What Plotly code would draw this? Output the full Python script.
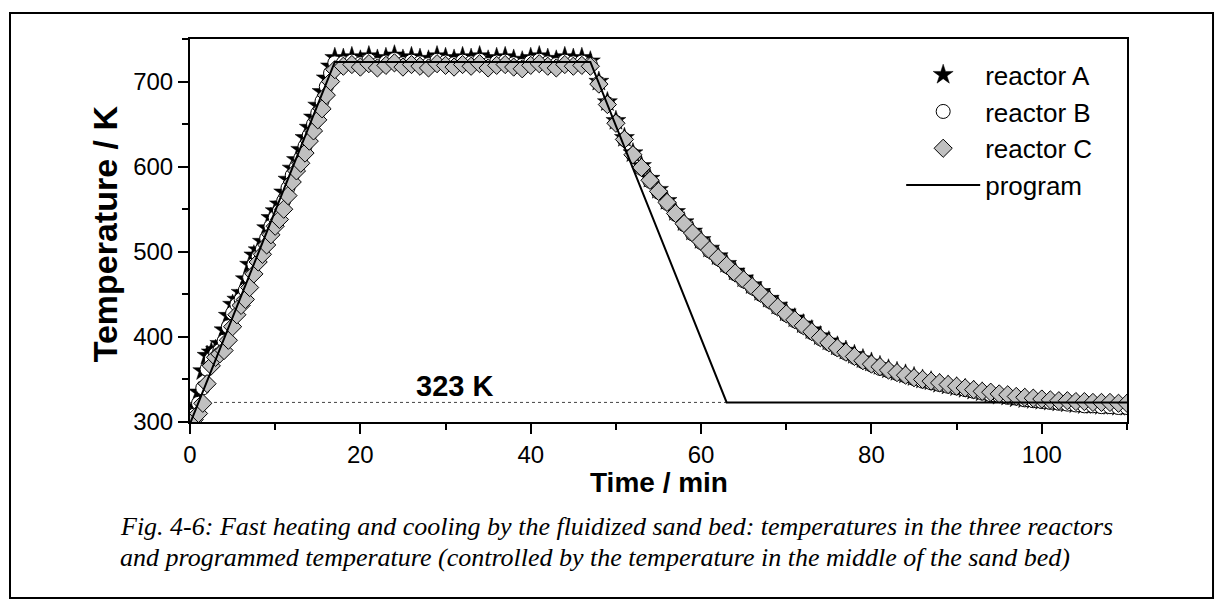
import plotly.graph_objects as go

# ---------------- data ----------------
heat_t = [i * 0.5 for i in range(35)]          # 0 .. 17 min
rest_t = list(range(18, 111))                  # 18 .. 110 min
time_min = heat_t + rest_t

reactor_A = [
    # heating 0..17 (0.5 min)
    302, 318, 335, 360, 378, 382, 385, 392, 408, 425, 438, 444, 452, 468, 485, 496, 502, 512,
    528, 540, 548, 556, 570, 585, 598, 608, 620, 634, 646, 658, 672, 688, 704, 718, 728,
    # plateau 18..46
    727, 729, 725, 730, 726, 728, 731, 726, 729, 727, 725, 730, 728, 726, 729, 727, 730, 725,
    728, 729, 726, 724, 728, 730, 727, 725, 729, 727, 728,
    # cooling 47..110
    724, 700, 676, 654, 634, 616, 601, 586, 573, 560, 547, 535, 524, 514, 504, 495, 486, 477,
    469, 461, 453, 445, 437, 429, 422, 415, 408, 401, 395, 389, 384, 379, 374, 370, 366, 362,
    359, 356, 353, 350, 348, 345, 343, 341, 339, 337, 335, 333, 331, 330, 328, 327, 326, 325,
    324, 323, 322, 321, 320, 320, 319, 319, 318, 318,
]
reactor_B = [
    300, 308, 322, 340, 362, 374, 380, 384, 395, 412, 428, 438, 444, 455, 470, 485, 494, 503,
    516, 530, 540, 548, 560, 575, 590, 600, 610, 624, 637, 650, 663, 677, 694, 710, 722,
    722, 724, 721, 725, 720, 723, 726, 721, 724, 722, 720, 725, 723, 721, 724, 722, 725, 720,
    723, 724, 721, 719, 723, 725, 722, 720, 724, 722, 723,
    720, 698, 674, 652, 632, 614, 598, 583, 570, 557, 544, 532, 521, 511, 501, 492, 483, 474,
    466, 458, 450, 442, 434, 426, 419, 412, 405, 398, 392, 386, 381, 376, 371, 367, 363, 360,
    357, 354, 351, 348, 346, 344, 342, 340, 338, 336, 334, 332, 331, 329, 328, 326, 325, 324,
    323, 322, 321, 320, 319, 319, 318, 318, 317, 317,
]
reactor_C = [
    300, 303, 310, 322, 345, 366, 376, 380, 384, 396, 412, 426, 437, 444, 458, 474, 488, 497,
    508, 520, 530, 538, 550, 566, 582, 595, 604, 616, 630, 642, 655, 668, 684, 700, 714,
    718, 720, 717, 721, 716, 719, 722, 717, 720, 718, 716, 721, 719, 717, 720, 718, 721, 716,
    719, 720, 717, 715, 719, 721, 718, 716, 720, 718, 719,
    718, 697, 673, 651, 632, 614, 599, 584, 571, 558, 545, 533, 522, 512, 502, 493, 484, 475,
    467, 459, 451, 443, 435, 427, 420, 413, 406, 399, 393, 387, 382, 377, 372, 368, 365, 361,
    358, 355, 352, 350, 348, 346, 344, 342, 340, 338, 336, 335, 333, 332, 330, 329, 328, 327,
    326, 325, 325, 324, 324, 323, 323, 323, 322, 322,
]

program_t = [0, 17, 47, 63, 110]
program_T = [298, 723, 723, 323, 323]

final_T = 323
caption_lines = [
    "Fig. 4-6: Fast heating and cooling by the fluidized sand bed: temperatures in the three reactors",
    "and programmed temperature (controlled by the temperature in the middle of the sand bed)",
]

# ---------------- figure ----------------
SANS = "Liberation Sans, Arial, sans-serif"
SERIF = "Liberation Serif, Times New Roman, serif"

fig = go.Figure()
fig.add_trace(go.Scatter(
    x=time_min, y=reactor_A, mode="markers", name="reactor A",
    marker=dict(symbol="star", size=15, color="black", line=dict(color="black", width=0.5)),
))
fig.add_trace(go.Scatter(
    x=time_min, y=reactor_B, mode="markers", name="reactor B",
    marker=dict(symbol="circle", size=14, color="white", line=dict(color="black", width=1)),
))
fig.add_trace(go.Scatter(
    x=time_min, y=reactor_C, mode="markers", name="reactor C",
    marker=dict(symbol="diamond", size=14, color="#c0c0c0", line=dict(color="black", width=1)),
))
fig.add_trace(go.Scatter(
    x=program_t, y=program_T, mode="lines", name="program",
    line=dict(color="black", width=2),
))

# dotted reference line at 323 K
fig.add_shape(type="line", xref="x", yref="y", x0=0, x1=program_t[3], y0=final_T, y1=final_T,
              line=dict(color="#444444", width=1, dash="dot"), layer="below")
fig.add_annotation(x=31, y=342, xref="x", yref="y", text="<b>323 K</b>", showarrow=False,
                   font=dict(family=SANS, size=29, color="black"))

# outer frame
fig.add_shape(type="rect", xref="paper", yref="paper", x0=-0.1921, x1=1.0918, y0=-0.4595, y1=1.0679,
              line=dict(color="black", width=2), fillcolor="rgba(0,0,0,0)")

# axis titles
fig.add_annotation(x=-0.0907, y=0.49, xref="paper", yref="paper", text="<b>Temperature / K</b>",
                   textangle=-90, showarrow=False, xanchor="center", yanchor="middle",
                   font=dict(family=SANS, size=34, color="black"))
fig.add_annotation(x=0.5, y=-0.1567, xref="paper", yref="paper", text="<b>Time / min</b>",
                   showarrow=False, yanchor="middle", font=dict(family=SANS, size=28, color="black"))

# caption (two lines)
for line_text, ypos in zip(caption_lines, [-0.274, -0.3525]):
    fig.add_annotation(x=-0.0768, y=ypos, xref="paper", yref="paper", xanchor="left",
                       yanchor="middle", align="left", text="<i>" + line_text + "</i>",
                       showarrow=False, font=dict(family=SERIF, size=26, color="black"))

axis_common = dict(
    showgrid=False, zeroline=False, showline=True, linecolor="black", linewidth=2,
    mirror=True, ticks="outside", ticklen=10, tickwidth=2, tickcolor="black",
    tickfont=dict(family=SANS, size=24, color="black"),
)
fig.update_xaxes(range=[0, 110], dtick=20, tick0=0,
                 minor=dict(dtick=10, ticks="outside", ticklen=6, tickwidth=2, tickcolor="black"),
                 **axis_common)
fig.update_yaxes(range=[300, 750], dtick=100, tick0=300,
                 minor=dict(dtick=50, ticks="outside", ticklen=6, tickwidth=2, tickcolor="black"),
                 **axis_common)

fig.update_layout(
    width=1223, height=608,
    margin=dict(l=190, r=96, t=39, b=186),
    paper_bgcolor="white", plot_bgcolor="white",
    showlegend=True,
    legend=dict(x=0.759, y=0.968, xanchor="left", yanchor="top", bgcolor="rgba(0,0,0,0)",
                font=dict(family=SANS, size=26, color="black"), itemwidth=74, tracegroupgap=0),
    font=dict(family=SANS),
)

fig.write_html("out.html")
